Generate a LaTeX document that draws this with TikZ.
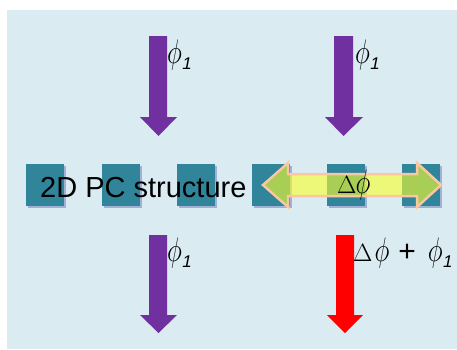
\RequirePackage{fix-cm}
\documentclass[tikz,border=0pt]{standalone}
\usepackage{amsmath}
\usepackage{fontspec}
\newfontfamily\arial{Liberation Sans}
\usetikzlibrary{shadows}

\definecolor{paleblue}{RGB}{218,235,242}
\definecolor{pcteal}{RGB}{49,133,155}
\definecolor{beampurple}{RGB}{112,48,160}
\definecolor{beamred}{RGB}{255,0,0}
\definecolor{shiftyellow}{RGB}{250,255,40}
\definecolor{shiftedge}{RGB}{250,200,160}

\newcommand{\ph}{\scalebox{0.75}[1]{$\phi$}}
\newcommand{\dl}{{\fontsize{25}{25}\selectfont$\Delta$}}
\newcommand{\phione}{\ph\kern0.5pt\raisebox{-6pt}{\fontsize{17}{17}\selectfont\arial\itshape 1}}

\begin{document}
\begin{tikzpicture}[x=1pt, y=-1pt]

\tikzstyle{rod} = [rectangle, fill=pcteal, minimum width=38pt, minimum height=42pt, inner sep=0pt,
  drop shadow={shadow xshift=2pt, shadow yshift=-2pt, opacity=0.25, fill=blue!50!black}]
\tikzstyle{phlabel} = [inner sep=0pt, anchor=base west, font=\fontsize{34}{36}\selectfont]
\tikzstyle{phaseshift} = [fill=shiftyellow, fill opacity=0.6, draw=shiftedge, line width=2.5pt, line join=miter]

\useasboundingbox (0,0) rectangle (457,349);
\fill[paleblue] (7,10) rectangle (457,349);

% photonic crystal rods
\foreach \i/\x in {1/45, 2/121, 3/196, 4/271, 5/346, 6/421}
  \node (rod\i) [rod] at (\x,185) {};

\node (pc) [anchor=base west, inner sep=0pt, font=\arial\fontsize{29}{31}\selectfont] at (40,197) {2D PC structure};

% incoming beams
\fill[beampurple] (149,36) -- (167,36) -- (167,117) -- (177,117) -- (158.5,136) -- (140,117) -- (149,117) -- cycle;
\fill[beampurple] (334,36) -- (353,36) -- (353,117) -- (363,117) -- (343.5,136) -- (325,117) -- (334,117) -- cycle;

% outgoing beams
\fill[beampurple] (149,235) -- (167,235) -- (167,315) -- (177,315) -- (158.5,333) -- (140,315) -- (149,315) -- cycle;
\fill[beamred] (336,235) -- (354,235) -- (354,315) -- (363,315) -- (345,333) -- (327,315) -- (336,315) -- cycle;

% phase shift
\path[phaseshift] (263,185) -- (288,163) -- (288,174) -- (417,174) -- (417,163) -- (441,185)
  -- (417,207) -- (417,196) -- (288,196) -- (288,207) -- cycle;
\node (dphi) [phlabel] at (337,193) {\dl\kern-1pt\ph};

\node (in1) [phlabel] at (167,63.5) {\phione};
\node (in2) [phlabel] at (355,63.5) {\phione};
\node (out1) [phlabel] at (167,261.5) {\phione};
\node (out2) [phlabel] at (353,261.5) {\dl\kern2pt\ph\kern9pt{\arial\fontsize{30}{30}\selectfont +}\kern12pt\phione};

\end{tikzpicture}
\end{document}
